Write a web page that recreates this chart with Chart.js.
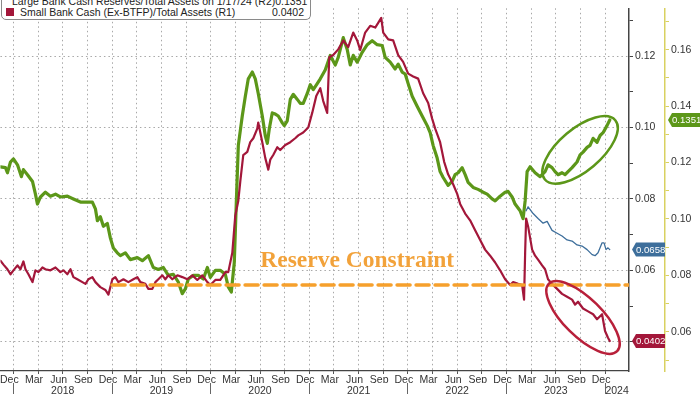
<!DOCTYPE html>
<html>
<head>
<meta charset="utf-8">
<script src="https://cdn.jsdelivr.net/npm/chart.js@4.4.1/dist/chart.umd.min.js"></script>
<style>
html, body { margin: 0; padding: 0; background: #fff; }
#wrap { position: relative; width: 700px; height: 394px; overflow: hidden; }
#legend {
    position: absolute; left: 1px; top: -7px; width: 308px;
    border: 1px solid #8a8a8a; border-radius: 0 0 5px 5px; background: #fff;
    font: 10.5px 'Liberation Sans', sans-serif; color: #222; padding: 1px 0 1px 0;
}
.row { display: flex; align-items: center; height: 11.5px; }
.sw { width: 8px; height: 8px; margin: 0 6px 0 4px; }
.name { flex: 1; white-space: nowrap; }
.val { margin-right: 6px; }
</style>
</head>
<body>
<div id="wrap">
    <canvas id="bankCash" width="700" height="394"></canvas>
    <div id="legend"></div>
</div>
<script>
// series (x = decimal year)
var SERIES_NAMES = ['Large Bank Cash Reserves/Total Assets on 1/17/24 (R2)', 'Small Bank Cash (Ex-BTFP)/Total Assets (R1)'];

var LARGE_T = [2017.868, 2017.919, 2017.939, 2017.970, 2018.000, 2018.041, 2018.081, 2018.101, 2018.142, 2018.193,
    2018.223, 2018.243, 2018.274, 2018.324, 2018.375, 2018.426, 2018.476, 2018.547, 2018.608, 2018.679,
    2018.750, 2018.800, 2018.831, 2018.851, 2018.881, 2018.912, 2018.952, 2018.983, 2019.013, 2019.053,
    2019.084, 2019.134, 2019.185, 2019.256, 2019.307, 2019.368, 2019.418, 2019.469, 2019.520, 2019.570,
    2019.621, 2019.672, 2019.712, 2019.743, 2019.773, 2019.824, 2019.874, 2019.925, 2019.966, 2019.996,
    2020.047, 2020.097, 2020.148, 2020.178, 2020.209, 2020.239, 2020.259, 2020.280, 2020.320, 2020.351,
    2020.381, 2020.422, 2020.452, 2020.482, 2020.523, 2020.553, 2020.574, 2020.594, 2020.624, 2020.655,
    2020.685, 2020.726, 2020.746, 2020.776, 2020.807, 2020.837, 2020.878, 2020.908, 2020.938, 2020.979,
    2021.009, 2021.040, 2021.080, 2021.111, 2021.161, 2021.212, 2021.263, 2021.293, 2021.344, 2021.384,
    2021.415, 2021.445, 2021.485, 2021.536, 2021.587, 2021.637, 2021.688, 2021.739, 2021.769, 2021.820,
    2021.870, 2021.901, 2021.941, 2021.972, 2022.002, 2022.043, 2022.093, 2022.144, 2022.195, 2022.225,
    2022.255, 2022.296, 2022.326, 2022.357, 2022.407, 2022.448, 2022.478, 2022.509, 2022.549, 2022.580,
    2022.610, 2022.661, 2022.711, 2022.762, 2022.803, 2022.853, 2022.884, 2022.934, 2022.985, 2023.015,
    2023.056, 2023.086, 2023.137, 2023.167, 2023.188, 2023.208, 2023.238, 2023.289, 2023.340, 2023.390,
    2023.420, 2023.461, 2023.491, 2023.522, 2023.562, 2023.593, 2023.623, 2023.664, 2023.714, 2023.745,
    2023.775, 2023.816, 2023.846, 2023.877, 2023.917, 2023.948, 2023.978, 2024.018, 2024.046];
var LARGE_V = [0.1185, 0.1182, 0.1164, 0.1202, 0.1213, 0.1192, 0.1150, 0.1175, 0.1157, 0.1133,
    0.1088, 0.1053, 0.1078, 0.1095, 0.1081, 0.1088, 0.1078, 0.1081, 0.1071, 0.1060,
    0.1060, 0.1060, 0.1036, 0.0994, 0.1008, 0.0974, 0.0984, 0.0932, 0.0897, 0.0880,
    0.0870, 0.0880, 0.0856, 0.0863, 0.0852, 0.0870, 0.0828, 0.0821, 0.0828, 0.0800,
    0.0804, 0.0776, 0.0735, 0.0752, 0.0787, 0.0800, 0.0800, 0.0787, 0.0828, 0.0793,
    0.0818, 0.0818, 0.0804, 0.0759, 0.0741, 0.0845, 0.1053, 0.1261, 0.1365, 0.1435,
    0.1497, 0.1521, 0.1497, 0.1445, 0.1365, 0.1296, 0.1268, 0.1320, 0.1376, 0.1372,
    0.1365, 0.1341, 0.1331, 0.1348, 0.1424, 0.1442, 0.1424, 0.1410, 0.1410, 0.1445,
    0.1476, 0.1459, 0.1480, 0.1497, 0.1528, 0.1580, 0.1546, 0.1573, 0.1643, 0.1601,
    0.1546, 0.1580, 0.1556, 0.1591, 0.1618, 0.1632, 0.1618, 0.1615, 0.1573, 0.1556,
    0.1532, 0.1549, 0.1521, 0.1514, 0.1480, 0.1435, 0.1400, 0.1365, 0.1331, 0.1306,
    0.1261, 0.1216, 0.1168, 0.1147, 0.1119, 0.1133, 0.1157, 0.1164, 0.1182, 0.1157,
    0.1130, 0.1112, 0.1105, 0.1095, 0.1088, 0.1071, 0.1064, 0.1081, 0.1095, 0.1098,
    0.1078, 0.1053, 0.1029, 0.1001, 0.1064, 0.1168, 0.1185, 0.1164, 0.1150, 0.1168,
    0.1192, 0.1182, 0.1168, 0.1157, 0.1164, 0.1157, 0.1168, 0.1182, 0.1202, 0.1227,
    0.1237, 0.1254, 0.1261, 0.1286, 0.1272, 0.1296, 0.1306, 0.1331, 0.1351];

var SMALL_T = [2017.868, 2017.899, 2017.939, 2017.970, 2018.000, 2018.041, 2018.071, 2018.101, 2018.122, 2018.152,
    2018.193, 2018.223, 2018.253, 2018.294, 2018.324, 2018.375, 2018.426, 2018.476, 2018.507, 2018.547,
    2018.578, 2018.608, 2018.648, 2018.699, 2018.730, 2018.760, 2018.800, 2018.831, 2018.881, 2018.932,
    2018.963, 2019.003, 2019.033, 2019.064, 2019.115, 2019.165, 2019.216, 2019.256, 2019.287, 2019.337,
    2019.368, 2019.408, 2019.439, 2019.469, 2019.510, 2019.540, 2019.570, 2019.611, 2019.662, 2019.712,
    2019.763, 2019.814, 2019.864, 2019.915, 2019.966, 2019.996, 2020.047, 2020.097, 2020.148, 2020.178,
    2020.219, 2020.249, 2020.280, 2020.300, 2020.330, 2020.371, 2020.401, 2020.432, 2020.472, 2020.482,
    2020.523, 2020.553, 2020.584, 2020.604, 2020.634, 2020.675, 2020.705, 2020.756, 2020.807, 2020.857,
    2020.888, 2020.938, 2020.989, 2021.029, 2021.070, 2021.111, 2021.141, 2021.181, 2021.202, 2021.242,
    2021.293, 2021.344, 2021.394, 2021.445, 2021.485, 2021.516, 2021.566, 2021.617, 2021.668, 2021.698,
    2021.729, 2021.749, 2021.800, 2021.850, 2021.901, 2021.951, 2022.002, 2022.053, 2022.103, 2022.154,
    2022.205, 2022.245, 2022.276, 2022.326, 2022.367, 2022.407, 2022.458, 2022.499, 2022.529, 2022.580,
    2022.630, 2022.681, 2022.732, 2022.782, 2022.833, 2022.884, 2022.934, 2022.985, 2023.036, 2023.066,
    2023.117, 2023.157, 2023.177, 2023.188, 2023.198, 2023.218, 2023.259, 2023.289, 2023.319, 2023.360,
    2023.390, 2023.420, 2023.461, 2023.512, 2023.562, 2023.613, 2023.664, 2023.694, 2023.724, 2023.775,
    2023.826, 2023.877, 2023.917, 2023.968, 2023.998, 2024.028, 2024.046];
var SMALL_V = [0.0627, 0.0616, 0.0603, 0.0589, 0.0600, 0.0614, 0.0603, 0.0625, 0.0603, 0.0589,
    0.0567, 0.0600, 0.0595, 0.0608, 0.0603, 0.0600, 0.0608, 0.0595, 0.0600, 0.0589,
    0.0603, 0.0581, 0.0575, 0.0567, 0.0562, 0.0575, 0.0581, 0.0567, 0.0553, 0.0545,
    0.0532, 0.0575, 0.0581, 0.0567, 0.0575, 0.0567, 0.0575, 0.0581, 0.0567, 0.0562,
    0.0548, 0.0548, 0.0567, 0.0575, 0.0586, 0.0575, 0.0586, 0.0575, 0.0586, 0.0581,
    0.0575, 0.0586, 0.0573, 0.0586, 0.0567, 0.0559, 0.0573, 0.0573, 0.0595, 0.0595,
    0.0649, 0.0753, 0.0795, 0.0849, 0.0923, 0.0932, 0.0959, 0.0970, 0.0997, 0.1014,
    0.0959, 0.0915, 0.0882, 0.0910, 0.0923, 0.0945, 0.0937, 0.0951, 0.0959, 0.0970,
    0.0978, 0.0986, 0.1000, 0.1041, 0.1088, 0.1110, 0.1074, 0.1041, 0.1197, 0.1203,
    0.1219, 0.1244, 0.1225, 0.1266, 0.1244, 0.1217, 0.1266, 0.1285, 0.1280, 0.1293,
    0.1307, 0.1266, 0.1247, 0.1244, 0.1203, 0.1184, 0.1151, 0.1143, 0.1137, 0.1096,
    0.1069, 0.1025, 0.0997, 0.0959, 0.0904, 0.0869, 0.0841, 0.0814, 0.0786, 0.0759,
    0.0740, 0.0712, 0.0685, 0.0658, 0.0641, 0.0622, 0.0600, 0.0575, 0.0559, 0.0567,
    0.0562, 0.0559, 0.0518, 0.0649, 0.0745, 0.0723, 0.0658, 0.0641, 0.0630, 0.0614,
    0.0603, 0.0575, 0.0562, 0.0548, 0.0534, 0.0526, 0.0518, 0.0504, 0.0512, 0.0493,
    0.0485, 0.0477, 0.0463, 0.0477, 0.0430, 0.0411, 0.0402];

// small bank cash incl. BTFP (blue, R1), only after March 2023
var BTFP_T = [2023.198, 2023.218, 2023.269, 2023.319, 2023.370, 2023.411, 2023.461, 2023.512, 2023.562, 2023.613,
    2023.664, 2023.714, 2023.765, 2023.816, 2023.867, 2023.897, 2023.927, 2023.968, 2023.988, 2024.008,
    2024.028, 2024.046];
var BTFP_V = [0.0767, 0.0778, 0.0759, 0.0745, 0.0732, 0.0737, 0.0712, 0.0704, 0.0696, 0.0685,
    0.0682, 0.0671, 0.0668, 0.0658, 0.0644, 0.0641, 0.0649, 0.0677, 0.0677, 0.0658,
    0.0663, 0.0658];

var RESERVE_T = [2019.0, 2024.241];
var RESERVE_V = [0.0559, 0.0559];

var MONTHS = ['Jan', 'Feb', 'Mar', 'Apr', 'May', 'Jun', 'Jul', 'Aug', 'Sep', 'Oct', 'Nov', 'Dec'];
var YEARS = [2018, 2019, 2020, 2021, 2022, 2023, 2024];

var X_MIN = 2017.868, X_MAX = 2024.241;
var R1_MIN = 0.0318, R1_MAX = 0.1334;
var R2_MIN = 0.0461, R2_MAX = 0.1747;

var GREEN = '#5c9719', RED = '#a3173a', BLUE = '#3d6e9b', ORANGE = '#f6a02c';
var FONT = "'Liberation Sans', sans-serif";

function pts(ts, vs) {
    return ts.map(function (t, i) { return { x: t, y: vs[i] }; });
}

function monthTicks() {
    var out = [];
    for (var y = 2017; y <= 2024; y++) {
        for (var m = 0; m < 12; m++) {
            if (m % 3 === 0) out.push({ value: y + m / 12, kind: 'grid' });
            if (m % 3 === 2) out.push({ value: y + m / 12 + 1 / 24, kind: 'label', text: MONTHS[m] });
        }
    }
    // labels that would run past the right edge are dropped
    return out.filter(function (t) {
        return t.value >= X_MIN && t.value <= (t.kind === 'label' ? X_MAX - 0.1 : X_MAX);
    }).sort(function (a, b) { return a.value - b.value; });
}

function yearTicks() {
    var out = [];
    YEARS.forEach(function (y) {
        out.push({ value: y, kind: 'sep' });
        var lo = Math.max(y, X_MIN), hi = Math.min(y + 1, X_MAX);
        if (hi - lo > 0.2) out.push({ value: (lo + hi) / 2, kind: 'label', text: String(y) });
    });
    return out.sort(function (a, b) { return a.value - b.value; });
}

function valueTicks(lo, hi) {
    var out = [];
    for (var k = Math.ceil(lo * 100); k <= Math.floor(hi * 100); k++) {
        out.push({ value: k / 100, major: k % 2 === 0 });
    }
    return out;
}

function badge(ctx, x, y, w, color, text) {
    var h = 14;
    ctx.save();
    ctx.fillStyle = color;
    ctx.beginPath();
    ctx.moveTo(x, y);
    ctx.lineTo(x + 4, y - h / 2);
    ctx.lineTo(x + w, y - h / 2);
    ctx.lineTo(x + w, y + h / 2);
    ctx.lineTo(x + 4, y + h / 2);
    ctx.closePath();
    ctx.fill();
    ctx.fillStyle = '#fff';
    ctx.font = '9.6px ' + FONT;
    ctx.textBaseline = 'middle';
    ctx.fillText(text, x + 4, y + 0.5);
    ctx.restore();
}

function ring(ctx, cx, cy, rx, ry, rot, color) {
    ctx.save();
    ctx.strokeStyle = color;
    ctx.lineWidth = 2.5;
    ctx.beginPath();
    ctx.ellipse(cx, cy, rx, ry, rot, 0, Math.PI * 2);
    ctx.stroke();
    ctx.restore();
}

var notes = {
    id: 'notes',
    afterDatasetsDraw: function (chart) {
        var ctx = chart.ctx, s = chart.scales;
        ring(ctx, s.x.getPixelForValue(2023.745), s.y2.getPixelForValue(0.1245), 46, 21, -0.7, GREEN);
        ring(ctx, s.x.getPixelForValue(2023.775), s.y1.getPixelForValue(0.0468), 48, 19, 0.78, '#b8203a');
        ctx.save();
        ctx.fillStyle = '#f2a23a';
        ctx.font = "bold 23.5px 'Liberation Serif', serif";
        ctx.textAlign = 'center';
        ctx.textBaseline = 'middle';
        ctx.fillText('Reserve Constraint', s.x.getPixelForValue(2021.485), s.y1.getPixelForValue(0.0627));
        ctx.restore();
    },
    afterDraw: function (chart) {
        var ctx = chart.ctx, s = chart.scales;
        var lastSmall = SMALL_V[SMALL_V.length - 1];
        var lastBtfp = BTFP_V[BTFP_V.length - 1];
        var lastLarge = LARGE_V[LARGE_V.length - 1];
        badge(ctx, s.y1.left + 3, s.y1.getPixelForValue(lastBtfp), 33, BLUE, lastBtfp.toFixed(4));
        badge(ctx, s.y1.left + 3, s.y1.getPixelForValue(lastSmall), 33, RED, lastSmall.toFixed(4));
        badge(ctx, s.y2.left + 3, s.y2.getPixelForValue(lastLarge), 34, GREEN, lastLarge.toFixed(4));
    }
};

function initBankCash() {
    var bankCashCtx = document.getElementById('bankCash').getContext('2d');
    var tickFont = { family: FONT, size: 10.5 };
    var bankCashChart = new Chart(bankCashCtx, {
        type: 'line',
        data: {
            datasets: [{
                data: pts(RESERVE_T, RESERVE_V), yAxisID: 'y1',
                borderColor: ORANGE, borderWidth: 3.5, borderDash: [13, 6]
            }, {
                data: pts(BTFP_T, BTFP_V), yAxisID: 'y1',
                borderColor: BLUE, borderWidth: 1.3
            }, {
                label: SERIES_NAMES[1], data: pts(SMALL_T, SMALL_V), yAxisID: 'y1',
                borderColor: RED, borderWidth: 2.2
            }, {
                label: SERIES_NAMES[0], data: pts(LARGE_T, LARGE_V), yAxisID: 'y2',
                borderColor: GREEN, borderWidth: 3.2
            }]
        },
        options: {
            responsive: false,
            animation: false,
            layout: { padding: 0, autoPadding: false },
            elements: { point: { radius: 0 }, line: { tension: 0, borderJoinStyle: 'round', borderCapStyle: 'round' } },
            plugins: { legend: { display: false }, tooltip: { enabled: false } },
            scales: {
                x: {
                    type: 'linear', position: 'bottom', min: X_MIN, max: X_MAX,
                    afterBuildTicks: function (s) { s.ticks = monthTicks(); },
                    afterFit: function (s) { s.height = 12; },
                    ticks: {
                        autoSkip: false, maxRotation: 0, padding: 0, color: '#333', font: tickFont,
                        callback: function (v, i, ticks) { return ticks[i].text || ''; }
                    },
                    grid: {
                        color: function (c) { return c.tick && c.tick.kind === 'grid' ? '#a8a8a8' : 'rgba(0,0,0,0)'; },
                        tickColor: function (c) { return c.tick && c.tick.kind === 'grid' ? '#555' : 'rgba(0,0,0,0)'; },
                        tickLength: 3, lineWidth: 1
                    },
                    border: { color: '#444', width: 1.2, dash: [1.5, 3] }
                },
                x2: {
                    type: 'linear', position: 'bottom', min: X_MIN, max: X_MAX,
                    afterBuildTicks: function (s) { s.ticks = yearTicks(); },
                    afterFit: function (s) { s.height = 11; },
                    ticks: {
                        autoSkip: false, maxRotation: 0, padding: -14, color: '#333', font: tickFont,
                        callback: function (v, i, ticks) { return ticks[i].text || ''; }
                    },
                    grid: {
                        drawOnChartArea: false, tickLength: 16,
                        color: function (c) { return c.tick && c.tick.kind === 'sep' ? '#666' : 'rgba(0,0,0,0)'; }
                    },
                    border: { display: false }
                },
                y1: {
                    type: 'linear', position: 'right', weight: 0, min: R1_MIN, max: R1_MAX,
                    afterBuildTicks: function (s) { s.ticks = valueTicks(R1_MIN, R1_MAX); },
                    afterFit: function (s) { s.width = 36; },
                    ticks: {
                        padding: 2, color: '#333', font: tickFont,
                        callback: function (v, i, ticks) { return ticks[i].major ? v.toFixed(2) : ''; }
                    },
                    grid: {
                        color: function (c) { return c.tick && c.tick.major ? '#a8a8a8' : 'rgba(0,0,0,0)'; },
                        tickColor: '#444', tickLength: 4
                    },
                    border: { color: '#444', width: 1.5, dash: [1.5, 3] }
                },
                y2: {
                    type: 'linear', position: 'right', weight: 1, min: R2_MIN, max: R2_MAX,
                    afterBuildTicks: function (s) { s.ticks = valueTicks(R2_MIN, R2_MAX); },
                    afterFit: function (s) { s.width = 35; },
                    ticks: {
                        padding: 2, color: '#333', font: tickFont,
                        callback: function (v, i, ticks) { return ticks[i].major ? v.toFixed(2) : ''; }
                    },
                    grid: { drawOnChartArea: false, color: '#d9d160', tickLength: 4 },
                    border: { color: '#d9d160', width: 1.5 }
                }
            }
        },
        plugins: [notes]
    });
    return bankCashChart;
}

function fillLegend() {
    var rows = [[GREEN, SERIES_NAMES[0], LARGE_V[LARGE_V.length - 1]], [RED, SERIES_NAMES[1], SMALL_V[SMALL_V.length - 1]]];
    document.getElementById('legend').innerHTML = rows.map(function (r) {
        return '<div class="row"><span class="sw" style="background:' + r[0] + '"></span><span class="name">' +
            r[1] + '</span><span class="val">' + r[2].toFixed(4) + '</span></div>';
    }).join('');
}

fillLegend();
initBankCash();
</script>
</body>
</html>
